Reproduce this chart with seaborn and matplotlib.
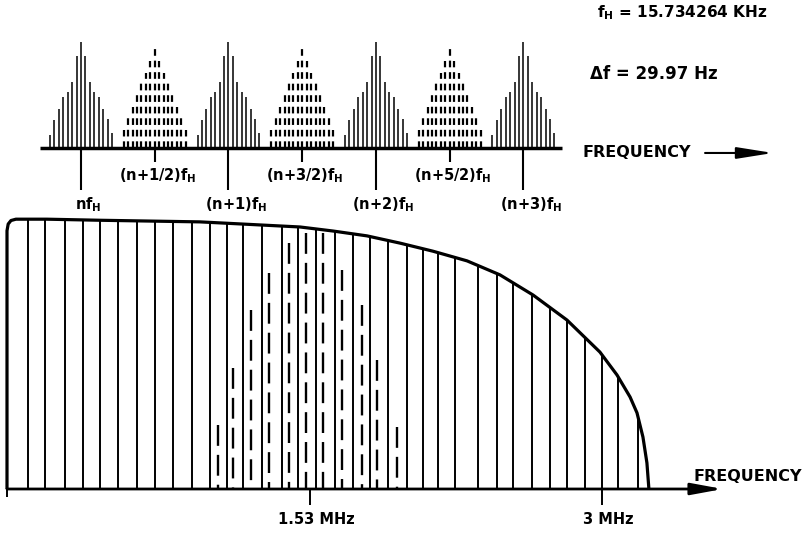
import numpy as np
import matplotlib
matplotlib.use('Agg')
import matplotlib.pyplot as plt
import seaborn as sns

# --- top spectrum, x in units of f_H (relative to n f_H) ---
luma_harmonics = [0, 1, 2, 3]
chroma_harmonics = [0.5, 1.5, 2.5]
luma_labels = ['nf', '(n+1)f', '(n+2)f', '(n+3)f']
chroma_labels = ['(n+1/2)f', '(n+3/2)f', '(n+5/2)f']
# relative height of the lines in one cluster
luma_profile = [0.12, 0.26, 0.37, 0.48, 0.53, 0.62, 0.87, 1.0,
                0.87, 0.62, 0.53, 0.48, 0.37, 0.27, 0.14]
chroma_profile = [0.17, 0.28, 0.39, 0.50, 0.61, 0.71, 0.82, 0.93,
                  0.82, 0.71, 0.61, 0.50, 0.39, 0.28, 0.17]
line_step = 0.03  # distance between lines of a cluster (f_H units)

# --- bottom spectrum, x in MHz ---
luma_mhz = [0.0, 0.106, 0.192, 0.293, 0.383, 0.469, 0.560, 0.656, 0.746,
            0.837, 0.933, 1.024, 1.109, 1.190, 1.286, 1.387, 1.467, 1.558,
            1.654, 1.745, 1.830, 1.921, 2.017, 2.098, 2.174, 2.259, 2.375,
            2.471, 2.552, 2.647, 2.738, 2.824, 2.914, 3.000, 3.081, 3.182]
chroma_mhz = [1.064, 1.140, 1.230, 1.321, 1.422, 1.508, 1.593, 1.689,
              1.790, 1.866, 1.967]
chroma_amp = [0.238, 0.450, 0.665, 0.803, 0.915, 0.952, 0.952, 0.814,
              0.684, 0.480, 0.230]
env_mhz = [0.0, 0.0, 0.006, 0.02, 0.045, 0.2, 0.469, 0.973, 1.478, 1.644,
           1.815, 1.982, 2.148, 2.320, 2.486, 2.653, 2.824, 2.990, 3.076,
           3.142, 3.177, 3.207, 3.227, 3.237]
env_amp = [0.0, 0.96, 0.985, 0.998, 1.003, 1.003, 0.999, 0.993, 0.974,
           0.959, 0.941, 0.914, 0.884, 0.848, 0.796, 0.721, 0.628, 0.509,
           0.424, 0.342, 0.283, 0.193, 0.097, 0.0]
mhz_ticks = [1.53, 3.0]
mhz_labels = ['1.53 MHz', '3 MHz']

sns.set_style('white')
plt.rcParams['font.family'] = ['DejaVu Sans']
plt.rcParams['font.weight'] = 'bold'
plt.rcParams['text.color'] = 'black'
plt.rcParams['lines.scale_dashes'] = False
plt.rcParams['lines.solid_capstyle'] = 'butt'

fig = plt.figure(figsize=(8.08, 5.34), dpi=100)
ax_top = fig.add_axes([0, 0.5974, 1, 0.4026])
ax_bot = fig.add_axes([0, 0, 1, 0.5974])
for ax in (ax_top, ax_bot):
    ax.set_axis_off()
ax_top.set_xlim(-0.549, 4.929)
ax_top.set_ylim(-0.632, 1.396)
ax_bot.set_xlim(-0.0353, 4.0393)
ax_bot.set_ylim(-0.1673, 1.0186)

# top: line clusters
offsets = (np.arange(len(luma_profile)) - len(luma_profile) // 2) * line_step
for h in luma_harmonics:
    ax_top.vlines(h + offsets, 0, luma_profile, color='black', lw=1.1)
for h in chroma_harmonics:
    ax_top.vlines(h + offsets, 0, chroma_profile, color='black', lw=1.6,
                  linestyles=[(0, (4.8, 3.5))])

ax_top.hlines(0, -0.278, 3.26, color='black', lw=2.5)
ax_top.vlines(luma_harmonics, -0.40, 0, color='black', lw=1.5)
ax_top.vlines(chroma_harmonics, -0.13, 0, color='black', lw=1.5)

sub = r'$_\mathregular{H}$'
for h, lab in zip(luma_harmonics, luma_labels):
    ax_top.text(h + 0.05, -0.45, lab + sub, ha='center', va='top', fontsize=10.5)
for h, lab in zip(chroma_harmonics, chroma_labels):
    ax_top.text(h + 0.02, -0.17, lab + sub, ha='center', va='top', fontsize=10.5)

ax_top.text(3.403, -0.047, 'FREQUENCY', ha='left', va='center', fontsize=11.5)
ax_top.annotate('', xy=(4.692, -0.047), xytext=(4.231, -0.047),
                arrowprops=dict(arrowstyle='-|>,head_length=2.2,head_width=0.35',
                                lw=1.5, color='black', mutation_scale=10,
                                shrinkA=0, shrinkB=0))

fig.text(597 / 808, 1 - 13 / 534, 'f' + sub + ' = 15.734264 KHz',
         va='center', ha='left', fontsize=11)
fig.text(590 / 808, 1 - 74 / 534, 'Δf = 29.97 Hz',
         va='center', ha='left', fontsize=12)

# bottom: video spectrum
clip = plt.Polygon(np.column_stack([env_mhz, env_amp]), closed=True,
                   transform=ax_bot.transData)
lc = ax_bot.vlines(luma_mhz, 0, 1.05, color='black', lw=1.4)
lc.set_clip_path(clip)
# dashed chroma lines, dash pattern starting at the top of each line
ax_bot.vlines(chroma_mhz, chroma_amp, 0, color='black', lw=1.7,
              linestyles=[(0, (15, 6.5))])
sns.lineplot(x=env_mhz, y=env_amp, estimator=None, sort=False,
             color='black', lw=2.3, ax=ax_bot)

ax_bot.annotate('', xy=(3.61, 0), xytext=(0, 0),
                arrowprops=dict(arrowstyle='-|>,head_length=1.9,head_width=0.35',
                                lw=2, color='black', mutation_scale=10,
                                shrinkA=0, shrinkB=0))
ax_bot.vlines([0], -0.03, 0, color='black', lw=1.4)
ax_bot.vlines(mhz_ticks, -0.06, 0, color='black', lw=1.4)
for t, lab in zip(mhz_ticks, mhz_labels):
    ax_bot.text(t + 0.03, -0.115, lab, ha='center', va='center', fontsize=10.5)
ax_bot.text(3.46, 0.045, 'FREQUENCY', ha='left', va='center', fontsize=11.5)

fig.savefig('out.png', dpi=100)
